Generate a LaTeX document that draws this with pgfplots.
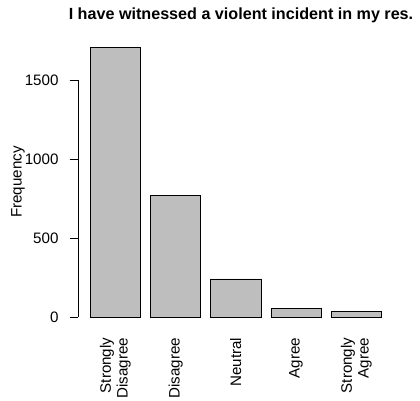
\documentclass[border=0pt]{standalone}
\usepackage{fontspec}
\setmainfont{Liberation Sans}
\usepackage{pgfplots}
\pgfplotsset{compat=1.18}
\definecolor{rgray}{HTML}{BEBEBE}
\begin{document}
\begin{tikzpicture}[x=1bp,y=1bp]
\useasboundingbox (0,0) rectangle (420,401);
\begin{axis}[
  at={(78.2bp,73bp)}, anchor=south west,
  scale only axis, width=325.3bp, height=291.5bp,
  xmin=-0.04, xmax=6.44, ymin=-68.4, ymax=1777.4,
  axis line style={draw=none},
  ytick={0,500,1000,1500},
  ytick pos=left, tick align=outside,
  major tick length=8.5bp,
  ytick style={black, line width=0.6bp},
  xtick={0.7,1.9,3.1,4.3,5.5},
  xticklabels={{Strongly\\Disagree},Disagree,Neutral,Agree,{Strongly\\Agree}},
  xtick style={draw=none},
  xticklabel style={yshift=-1bp, rotate=90, anchor=east, align=right, inner sep=0pt, font=\fontsize{15.2}{17}\selectfont},
  yticklabel style={anchor=east, inner sep=0pt, xshift=-11bp, font=\fontsize{15.2}{17}\selectfont},
  /pgf/number format/assume math mode=true,
  /pgf/number format/1000 sep={},
  clip=false,
]
\addplot[ybar, bar width=1, fill=rgray, draw=black, line width=0.7bp] coordinates {(0.7,1709) (1.9,770) (3.1,242) (4.3,57) (5.5,35)};
\draw[black, line width=0.6bp] (axis cs:-0.04,0) -- (axis cs:-0.04,1500);
\end{axis}
\node[rotate=90, font=\fontsize{15.2}{17}\selectfont] at (18,219) {Frequency};
\node[anchor=base, font=\fontsize{16.2}{19}\selectfont\bfseries] at (241,382) {I have witnessed a violent incident in my res.};
\end{tikzpicture}
\end{document}
